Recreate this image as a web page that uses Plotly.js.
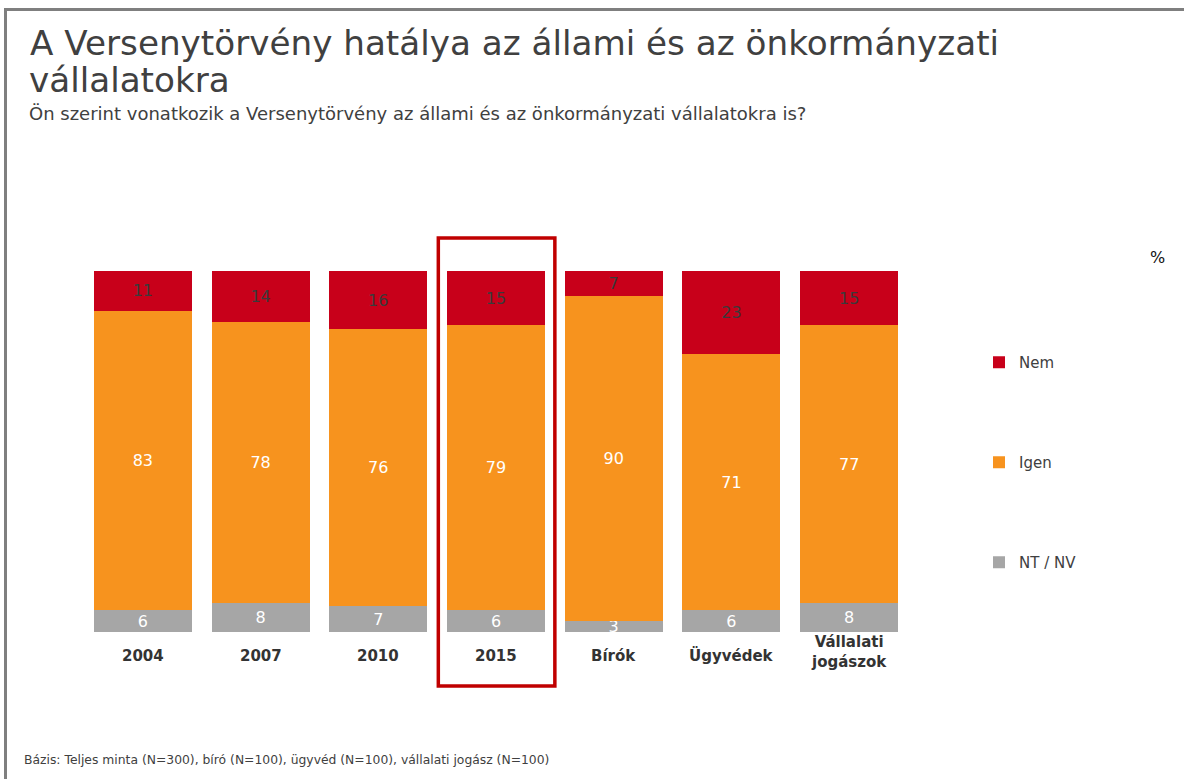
<!DOCTYPE html>
<html>
<head>
<meta charset="utf-8">
<script src="https://cdn.plot.ly/plotly-3.0.1.min.js"></script>
<style>html,body{margin:0;padding:0;background:#fff;}#chart{width:1184px;height:779px;}</style>
</head>
<body>
<div id="chart"></div>
<script>
// ---- data ----
const categories = ['2004', '2007', '2010', '2015', 'Bírók', 'Ügyvédek', 'Vállalati jogászok'];
const tickLabels = ['2004', '2007', '2010', '2015', 'Bírók', 'Ügyvédek', 'Vállalati<br>jogászok'];
const ntnv = [6, 8, 7, 6, 3, 6, 8];
const igen = [83, 78, 76, 79, 90, 71, 77];
const nem  = [11, 14, 16, 15, 7, 23, 15];
const seriesNames = ['NT / NV', 'Igen', 'Nem'];
const highlighted = '2015';

// ---- layout helpers (pixel -> paper) ----
const W = 1184, H = 779;
const M = {l: 84, r: 276, t: 270, b: 147};
const plotW = W - M.l - M.r, plotH = H - M.t - M.b;
const fx = p => (p - M.l) / plotW;
const fy = p => (H - M.b - p) / plotH;

const FONT = 'DejaVu Sans, Verdana, sans-serif';

function mk(name, vals, color, txtColor, group, rank) {
  return {
    type: 'bar', name: name, x: categories, y: vals,
    text: vals.map(String), textposition: 'inside', insidetextanchor: 'middle',
    textangle: 0, constraintext: 'none', cliponaxis: false,
    textfont: {family: FONT, size: 16, color: txtColor},
    marker: {color: color, line: {width: 0}},
    legendgroup: group, legendrank: rank, hoverinfo: 'skip'
  };
}

const traces = [
  mk(seriesNames[0], ntnv, '#A6A6A6', '#FFFFFF', 'g1', 3),
  mk(seriesNames[1], igen, '#F7931E', '#FFFFFF', 'g2', 2),
  mk(seriesNames[2], nem, '#C8001A', '#3A3A3A', 'g3', 1)
];

const hi = categories.indexOf(highlighted);
const n = categories.length;

// category labels: placed on the category axis by category index
const catLabels = categories.map((c, i) => ({
  text: '<b>' + tickLabels[i] + '</b>', xref: 'x', yref: 'paper', x: i,
  y: fy(tickLabels[i].indexOf('<br>') >= 0 ? 652 : 655.5),
  xanchor: 'center', yanchor: 'middle', showarrow: false,
  font: {family: FONT, size: 15, color: '#333333'}
}));

const layout = {
  width: W, height: H,
  margin: {l: M.l, r: M.r, t: M.t, b: M.b, pad: 0},
  barmode: 'stack', barnorm: 'percent', bargap: 0.168,
  paper_bgcolor: '#FFFFFF', plot_bgcolor: '#FFFFFF',
  font: {family: FONT, color: '#404040'},
  showlegend: true,
  title: {
    text: 'A Versenytörvény hatálya az állami és az önkormányzati',
    xref: 'container', yref: 'container', x: 30 / W, xanchor: 'left',
    y: 1 - 43 / H, yanchor: 'middle', pad: {t: 0, b: 0, l: 0, r: 0},
    font: {family: FONT, size: 34.2, color: '#404040'}
  },
  xaxis: {
    type: 'category', range: [-0.5, n - 0.5], autorange: false, showticklabels: false,
    showgrid: false, zeroline: false, showline: false, ticks: '',
    fixedrange: true
  },
  yaxis: {range: [0, 100.3], autorange: false, visible: false, fixedrange: true},
  legend: {
    x: fx(979), xanchor: 'left', y: fy(346), yanchor: 'top',
    traceorder: 'grouped', tracegroupgap: 77.5,
    font: {family: FONT, size: 15, color: '#404040'},
    bgcolor: 'rgba(0,0,0,0)'
  },
  annotations: [
    {text: 'vállalatokra', xref: 'paper', yref: 'paper', x: fx(27), y: fy(80),
     xanchor: 'left', yanchor: 'middle', showarrow: false,
     font: {family: FONT, size: 34.2, color: '#404040'}},
    {text: 'Ön szerint vonatkozik a Versenytörvény az állami és az önkormányzati vállalatokra is?',
     xref: 'paper', yref: 'paper', x: fx(27), y: fy(113.5),
     xanchor: 'left', yanchor: 'middle', showarrow: false,
     font: {family: FONT, size: 18, color: '#404040'}},
    {text: '%', xref: 'paper', yref: 'paper', x: fx(1157), y: fy(257),
     xanchor: 'center', yanchor: 'middle', showarrow: false,
     font: {family: FONT, size: 16, color: '#111111'}},
    {text: 'Bázis: Teljes minta (N=300), bíró (N=100), ügyvéd (N=100), vállalati jogász (N=100)',
     xref: 'paper', yref: 'paper', x: fx(22), y: fy(760),
     xanchor: 'left', yanchor: 'middle', showarrow: false,
     font: {family: FONT, size: 12.35, color: '#404040'}}
  ].concat(catLabels),
  shapes: [
    // outer frame (left + top)
    {type: 'line', xref: 'paper', yref: 'paper', x0: fx(5.5), x1: fx(5.5), y0: fy(8), y1: fy(800),
     line: {color: '#7F7F7F', width: 3}},
    {type: 'line', xref: 'paper', yref: 'paper', x0: fx(4), x1: fx(1200), y0: fy(9.5), y1: fy(9.5),
     line: {color: '#7F7F7F', width: 3}},
    // highlight box
    {type: 'rect', xref: 'paper', yref: 'paper',
     x0: (hi + 0.5 - 0.49) / n, x1: (hi + 0.5 + 0.5) / n, y0: fy(686), y1: fy(238),
     line: {color: '#C00000', width: 3.5}, fillcolor: 'rgba(0,0,0,0)'}
  ]
};

Plotly.newPlot('chart', traces, layout, {displayModeBar: false, staticPlot: true});
</script>
</body>
</html>
